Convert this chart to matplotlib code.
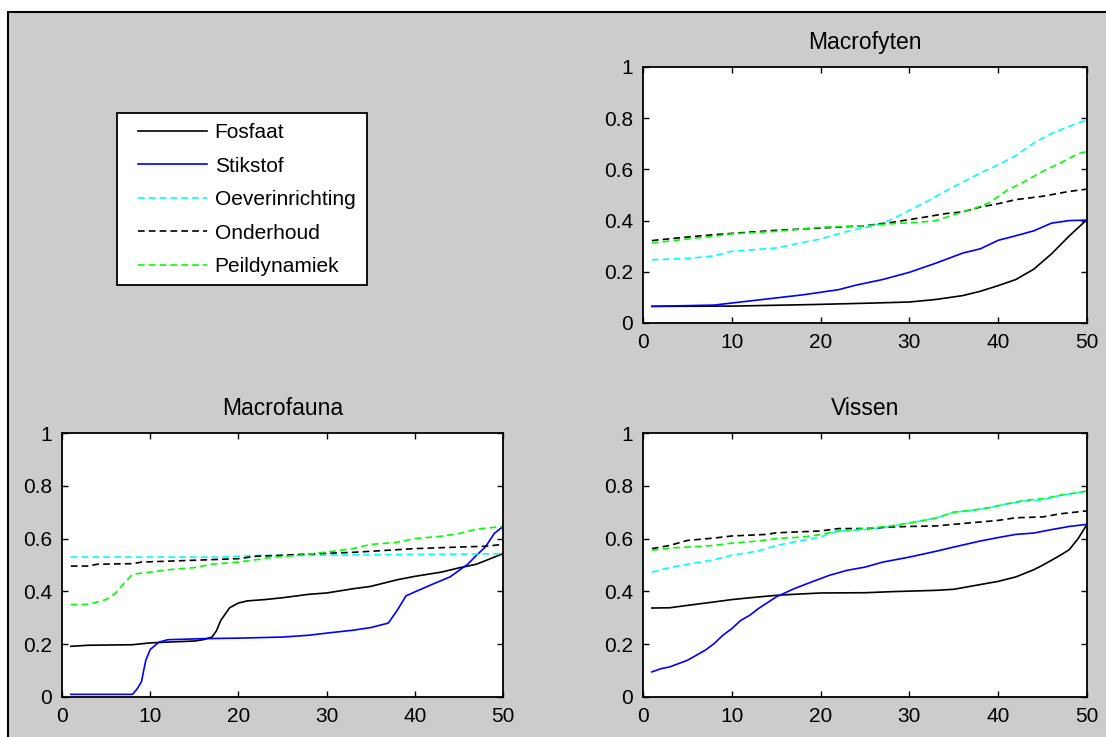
#!/usr/bin/env python3
# -*- coding: utf-8 -*-
"""MATLAB-style three-panel figure: Macrofyten / Macrofauna / Vissen."""
import matplotlib
matplotlib.use("Agg")
import matplotlib.pyplot as plt
from matplotlib.lines import Line2D
from matplotlib.patches import Rectangle

plt.rcParams["font.family"] = ["Liberation Sans", "DejaVu Sans"]

labels = ["Fosfaat", "Stikstof", "Oeverinrichting", "Onderhoud", "Peildynamiek"]
colors = ["black", "blue", "cyan", "black", "lime"]
styles = ["-", "-", "--", "--", "--"]

# --- Macrofyten ---
fyt_fosfaat_x = [1, 10, 19, 26, 30, 33, 36, 38, 40, 42, 44, 46, 48, 50]
fyt_fosfaat_y = [0.065, 0.066, 0.072, 0.078, 0.082, 0.092, 0.107, 0.124, 0.146, 0.17, 0.21, 0.27, 0.34, 0.404]
fyt_stikstof_x = [1, 8, 10, 14, 18, 22, 24, 27, 30, 33, 36, 38, 40, 42, 44, 46, 48, 50]
fyt_stikstof_y = [0.065, 0.07, 0.078, 0.094, 0.11, 0.13, 0.148, 0.17, 0.198, 0.234, 0.273, 0.29, 0.323, 0.341, 0.36, 0.39, 0.40, 0.402]
fyt_oever_x = [1, 5, 8, 10, 15, 18, 20, 23, 26, 28, 30, 32, 34, 36, 38, 40, 42, 44, 46, 48, 50]
fyt_oever_y = [0.247, 0.252, 0.262, 0.28, 0.293, 0.315, 0.328, 0.358, 0.38, 0.404, 0.44, 0.475, 0.514, 0.55, 0.586, 0.618, 0.654, 0.703, 0.74, 0.768, 0.794]
fyt_onder_x = [1, 5, 8, 10, 15, 20, 25, 28, 32, 34, 36, 38, 40, 42, 45, 48, 50]
fyt_onder_y = [0.322, 0.336, 0.345, 0.35, 0.362, 0.371, 0.38, 0.393, 0.415, 0.427, 0.434, 0.453, 0.466, 0.482, 0.495, 0.514, 0.523]
fyt_peil_x = [1, 5, 8, 10, 15, 20, 25, 28, 31, 33, 35, 37, 39, 41, 43, 45, 47, 49, 50]
fyt_peil_y = [0.3125, 0.328, 0.339, 0.348, 0.358, 0.374, 0.38, 0.388, 0.393, 0.40, 0.423, 0.443, 0.47, 0.518, 0.553, 0.592, 0.625, 0.661, 0.67]

# --- Macrofauna ---
fau_fosfaat_x = [1, 3, 8, 10, 12, 15, 16, 17, 17.5, 18, 19, 20, 21, 23, 25, 28, 30, 33, 35, 38, 40, 43, 45, 47, 50]
fau_fosfaat_y = [0.192, 0.196, 0.198, 0.205, 0.208, 0.212, 0.217, 0.227, 0.25, 0.29, 0.338, 0.356, 0.364, 0.369, 0.376, 0.389, 0.394, 0.41, 0.419, 0.444, 0.457, 0.473, 0.489, 0.503, 0.543]
fau_stikstof_x = [1, 8, 8.5, 9, 9.5, 10, 11, 12, 16, 20, 25, 28, 30, 33, 35, 37, 38, 39, 40, 42, 44, 46, 47, 48, 49, 50]
fau_stikstof_y = [0.01, 0.01, 0.03, 0.057, 0.139, 0.18, 0.208, 0.217, 0.221, 0.223, 0.227, 0.234, 0.242, 0.253, 0.263, 0.28, 0.328, 0.383, 0.398, 0.427, 0.455, 0.503, 0.537, 0.568, 0.619, 0.646]
fau_oever_x = [1, 18, 22, 30, 35, 45, 50]
fau_oever_y = [0.530, 0.530, 0.536, 0.537, 0.539, 0.541, 0.543]
fau_onder_x = [1, 3, 4, 8, 9, 15, 20, 22, 25, 29, 33, 37, 40, 45, 48, 50]
fau_onder_y = [0.496, 0.496, 0.503, 0.505, 0.511, 0.518, 0.524, 0.533, 0.537, 0.543, 0.548, 0.556, 0.562, 0.568, 0.571, 0.578]
fau_peil_x = [1, 3, 4, 5, 6, 7, 8, 10, 12, 15, 17, 20, 22, 24, 27, 30, 33, 35, 38, 40, 43, 45, 47, 50]
fau_peil_y = [0.35, 0.351, 0.36, 0.369, 0.391, 0.429, 0.465, 0.473, 0.482, 0.49, 0.503, 0.511, 0.52, 0.53, 0.537, 0.549, 0.562, 0.578, 0.586, 0.60, 0.609, 0.619, 0.636, 0.646]

# --- Vissen ---
vis_fosfaat_x = [1, 3, 5, 8, 10, 13, 15, 17, 20, 25, 28, 33, 35, 38, 40, 42, 44, 45, 47, 48, 49, 50]
vis_fosfaat_y = [0.337, 0.338, 0.347, 0.36, 0.369, 0.379, 0.385, 0.389, 0.394, 0.395, 0.399, 0.404, 0.408, 0.426, 0.438, 0.455, 0.482, 0.499, 0.537, 0.558, 0.60, 0.654]
vis_stikstof_x = [1, 2, 3, 5, 7, 8, 9, 10, 11, 12, 13, 15, 17, 19, 21, 23, 25, 27, 30, 33, 35, 38, 40, 42, 44, 46, 48, 50]
vis_stikstof_y = [0.095, 0.107, 0.114, 0.139, 0.177, 0.202, 0.234, 0.259, 0.29, 0.309, 0.335, 0.379, 0.41, 0.436, 0.461, 0.48, 0.492, 0.511, 0.53, 0.552, 0.568, 0.591, 0.604, 0.616, 0.621, 0.634, 0.646, 0.654]
vis_oever_x = [1, 3, 5, 8, 10, 13, 15, 17, 20, 22, 25, 28, 31, 33, 35, 37, 39, 41, 43, 45, 47, 50]
vis_oever_y = [0.473, 0.49, 0.503, 0.52, 0.537, 0.553, 0.574, 0.587, 0.606, 0.629, 0.634, 0.646, 0.665, 0.678, 0.70, 0.707, 0.717, 0.732, 0.742, 0.747, 0.764, 0.78]
vis_onder_x = [1, 3, 5, 8, 10, 14, 15, 20, 22, 25, 28, 30, 33, 35, 38, 40, 42, 45, 47, 50]
vis_onder_y = [0.562, 0.574, 0.593, 0.602, 0.61, 0.616, 0.622, 0.629, 0.638, 0.638, 0.644, 0.646, 0.648, 0.654, 0.663, 0.669, 0.679, 0.682, 0.694, 0.705]
vis_peil_x = [1, 3, 5, 8, 10, 13, 15, 18, 20, 22, 25, 28, 31, 33, 35, 37, 39, 41, 43, 45, 47, 50]
vis_peil_y = [0.556, 0.564, 0.568, 0.574, 0.583, 0.591, 0.60, 0.606, 0.615, 0.629, 0.638, 0.648, 0.665, 0.678, 0.70, 0.707, 0.717, 0.732, 0.745, 0.751, 0.764, 0.78]

titles = ["Macrofyten", "Macrofauna", "Vissen"]
xticks = [0, 10, 20, 30, 40, 50]
yticks = [0, 0.2, 0.4, 0.6, 0.8, 1]
yticklabels = ["0", "0.2", "0.4", "0.6", "0.8", "1"]

W, H = 1106, 737
fig = plt.figure(figsize=(W / 100, H / 100), dpi=100, facecolor="white")

# grey MATLAB figure area with thin black frame on left/top
fig.patches.append(Rectangle((8 / W, -0.1), 1.2, 1.1 - 12 / H, transform=fig.transFigure,
                             facecolor="#cccccc", edgecolor="black", linewidth=1.5, zorder=-10))


def px_axes(left, top, right, bottom):
    return fig.add_axes([left / W, 1 - bottom / H, (right - left) / W, (bottom - top) / H])


panels = [
    (px_axes(643, 67, 1087, 323), [(fyt_fosfaat_x, fyt_fosfaat_y), (fyt_stikstof_x, fyt_stikstof_y),
                                   (fyt_oever_x, fyt_oever_y), (fyt_onder_x, fyt_onder_y),
                                   (fyt_peil_x, fyt_peil_y)]),
    (px_axes(62, 433, 503, 697), [(fau_fosfaat_x, fau_fosfaat_y), (fau_stikstof_x, fau_stikstof_y),
                                  (fau_oever_x, fau_oever_y), (fau_onder_x, fau_onder_y),
                                  (fau_peil_x, fau_peil_y)]),
    (px_axes(643, 433, 1087, 697), [(vis_fosfaat_x, vis_fosfaat_y), (vis_stikstof_x, vis_stikstof_y),
                                    (vis_oever_x, vis_oever_y), (vis_onder_x, vis_onder_y),
                                    (vis_peil_x, vis_peil_y)]),
]

for (ax, series), title in zip(panels, titles):
    ax.set_facecolor("white")
    for (x, y), c, ls in zip(series, colors, styles):
        if ls == "--":
            ax.plot(x, y, color=c, linewidth=1.2, linestyle=ls, dashes=(4, 2.5))
        else:
            ax.plot(x, y, color=c, linewidth=1.2, linestyle=ls)
    ax.set_xlim(0, 50)
    ax.set_ylim(0, 1)
    ax.set_xticks(xticks)
    ax.set_yticks(yticks)
    ax.set_yticklabels(yticklabels)
    ax.tick_params(direction="in", length=4, width=1, top=True, right=True,
                   labelsize=15, pad=7, colors="black")
    for s in ax.spines.values():
        s.set_linewidth(1.3)
        s.set_color("black")
    ax.set_title(title, fontsize=16.5, pad=13)

# legend: frame drawn separately so its padding can match the MATLAB box
fig.patches.append(Rectangle((117 / W, 1 - 285 / H), 250 / W, 172 / H, transform=fig.transFigure,
                             facecolor="white", edgecolor="black", linewidth=1.3, zorder=5))
handles = [Line2D([], [], color=c, linestyle=ls, linewidth=1.2) for c, ls in zip(colors, styles)]
for h, ls in zip(handles, styles):
    if ls == "--":
        h.set_dashes((4, 2.5))
leg = fig.legend(handles, labels, loc="upper left", bbox_to_anchor=(138 / W, 1 - 123 / H),
                 bbox_transform=fig.transFigure, borderaxespad=0, borderpad=0, fontsize=15,
                 handlelength=3.3, handletextpad=0.38, labelspacing=0.7, frameon=False)
leg.set_zorder(6)

fig.savefig("out.png", dpi=100, facecolor="white")
